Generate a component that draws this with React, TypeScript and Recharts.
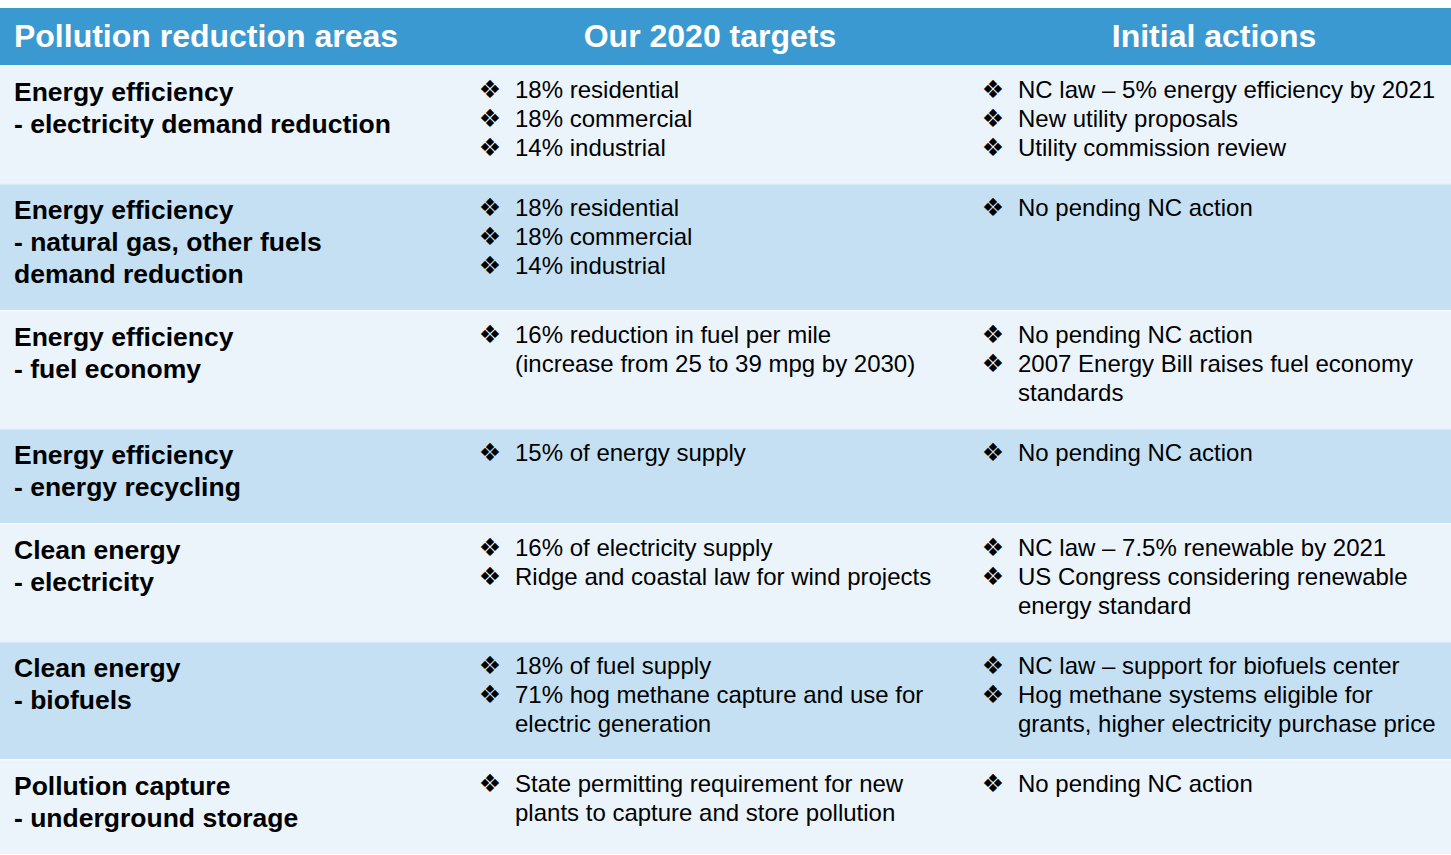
import { Bar, BarChart, XAxis, YAxis } from "recharts";

const headers = ["Pollution reduction areas", "Our 2020 targets", "Initial actions"];

const areaTitles = [
  "Energy efficiency",
  "Energy efficiency",
  "Energy efficiency",
  "Energy efficiency",
  "Clean energy",
  "Clean energy",
  "Pollution capture",
];

const areaSubtitles = [
  ["- electricity demand reduction"],
  ["- natural gas, other fuels", "demand reduction"],
  ["- fuel economy"],
  ["- energy recycling"],
  ["- electricity"],
  ["- biofuels"],
  ["- underground storage"],
];

// each bullet is a list of its wrapped lines
const targets = [
  [["18% residential"], ["18% commercial"], ["14% industrial"]],
  [["18% residential"], ["18% commercial"], ["14% industrial"]],
  [["16% reduction in fuel per mile", "(increase from 25 to 39 mpg by 2030)"]],
  [["15% of energy supply"]],
  [["16% of electricity supply"], ["Ridge and coastal law for wind projects"]],
  [["18% of fuel supply"], ["71% hog methane capture and use for", "electric generation"]],
  [["State permitting requirement for new", "plants to capture and store pollution"]],
];

const actions = [
  [["NC law \u2013 5% energy efficiency by 2021"], ["New utility proposals"], ["Utility commission review"]],
  [["No pending NC action"]],
  [["No pending NC action"], ["2007 Energy Bill raises fuel economy", "standards"]],
  [["No pending NC action"]],
  [["NC law \u2013 7.5% renewable by 2021"], ["US Congress considering renewable", "energy standard"]],
  [["NC law \u2013 support for biofuels center"], ["Hog methane systems eligible for", "grants, higher electricity purchase price"]],
  [["No pending NC action"]],
];

const FONT = '"Liberation Sans", Arial, sans-serif';
const WIDTH = 1451;
const HEADER_H = 57;
const AREA_LINE = 32;
const LIST_LINE = 29;
const ROW_PAD = 31;

const rowSpan = (i: number) =>
  Math.max(
    (1 + areaSubtitles[i].length) * AREA_LINE,
    targets[i].flat().length * LIST_LINE,
    actions[i].flat().length * LIST_LINE,
  ) + ROW_PAD;

const rowKeys = areaTitles.map((_, i) => `row${i}`);
const tableRow: Record<string, string | number> = { name: "table", header: HEADER_H };
rowKeys.forEach((k, i) => {
  tableRow[k] = rowSpan(i);
});
const total = HEADER_H + areaTitles.reduce((s, _, i) => s + rowSpan(i), 0);

function box(props: any) {
  const top = Math.min(props.y, props.y + props.height);
  const h = Math.abs(props.height);
  return { x: props.x, top, width: props.width, h };
}

function HeaderShape(props: any) {
  const { x, top, width, h } = box(props);
  const centers = [206, 710, 1214];
  return (
    <g>
      <rect x={x} y={top} width={width} height={h} fill="#3b99d1" />
      {headers.map((t, i) => (
        <text
          key={t}
          x={centers[i]}
          y={top + 39}
          textAnchor="middle"
          fill="#ffffff"
          fontFamily={FONT}
          fontWeight="bold"
          fontSize={32}
        >
          {t}
        </text>
      ))}
    </g>
  );
}

function BulletList({ items, x, top }: { items: string[][]; x: number; top: number }) {
  let line = 0;
  return (
    <g>
      {items.map((lines, bi) => {
        const start = line;
        line += lines.length;
        return (
          <g key={bi}>
            <text
              x={x - 25}
              y={top + start * LIST_LINE}
              textAnchor="middle"
              fill="#000"
              fontFamily="DejaVu Sans"
              fontSize={25}
            >
              {"\u2756"}
            </text>
            {lines.map((l, li) => (
              <text
                key={li}
                x={x}
                y={top + (start + li) * LIST_LINE}
                fill="#000"
                fontFamily={FONT}
                fontSize={24}
              >
                {l}
              </text>
            ))}
          </g>
        );
      })}
    </g>
  );
}

const makeRowShape = (i: number) => (props: any) => {
  const { x, top, width, h } = box(props);
  const area = [areaTitles[i], ...areaSubtitles[i]];
  return (
    <g>
      <rect x={x} y={top} width={width} height={h} fill={i % 2 === 0 ? "#ebf3fb" : "#c5e0f3"} />
      <rect x={x} y={top} width={width} height={1.5} fill="#ffffff" fillOpacity={0.55} />
      {area.map((l, li) => (
        <text
          key={li}
          x={14}
          y={top + 35.5 + li * AREA_LINE}
          fill="#000"
          fontFamily={FONT}
          fontWeight="bold"
          fontSize={26.5}
        >
          {l}
        </text>
      ))}
      <BulletList items={targets[i]} x={515} top={top + 32.5} />
      <BulletList items={actions[i]} x={1018} top={top + 32.5} />
    </g>
  );
};

export default function App() {
  return (
    <div style={{ position: "absolute", left: 0, top: 8, width: WIDTH }}>
      <BarChart
        width={WIDTH}
        height={total}
        data={[tableRow]}
        margin={{ top: 0, right: 0, bottom: 0, left: 0 }}
        barCategoryGap={0}
        barGap={0}
      >
        <XAxis dataKey="name" type="category" hide />
        <YAxis type="number" domain={[0, total]} reversed hide allowDataOverflow />
        <Bar dataKey="header" stackId="t" isAnimationActive={false} shape={HeaderShape} />
        {rowKeys.map((k, i) => (
          <Bar key={k} dataKey={k} stackId="t" isAnimationActive={false} shape={makeRowShape(i)} />
        ))}
      </BarChart>
    </div>
  );
}
